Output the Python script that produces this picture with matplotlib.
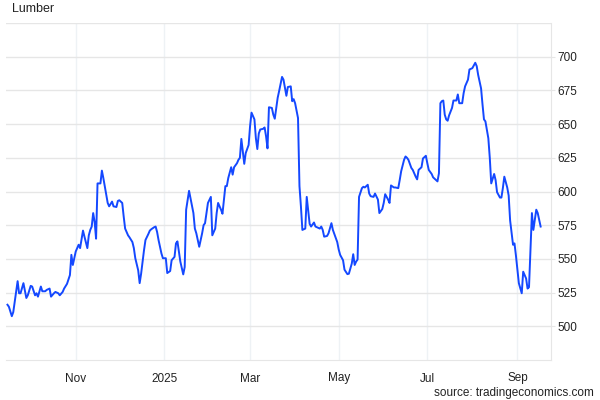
import datetime as dt
import matplotlib
matplotlib.use("Agg")
import matplotlib.pyplot as plt
import matplotlib.dates as mdates
from matplotlib.ticker import FixedLocator

# ---- data (day offset from 2024-09-13, price) ----
start_date = dt.date(2024, 9, 13)
days = [2, 3, 5, 6, 8, 9, 10, 11, 13, 15, 16, 18, 19, 21, 22, 23, 25, 26, 28, 29,
        31, 32, 34, 35, 37, 38, 40, 41, 43, 45, 46, 47, 49, 51, 52, 54, 55, 57, 58, 59,
        60, 61, 62, 63, 64, 66, 67, 68, 70, 71, 72, 74, 75, 77, 78, 79, 81, 82, 83, 85,
        86, 88, 89, 90, 92, 93, 94, 96, 97, 99, 100, 101, 103, 104, 105, 106, 108, 109, 111, 112,
        114, 115, 117, 118, 119, 120, 121, 123, 124, 125, 127, 128, 130, 131, 132, 134, 136, 137, 138, 140,
        142, 143, 145, 146, 147, 149, 150, 152, 153, 154, 156, 157, 158, 160, 161, 162, 163, 165, 166, 168,
        169, 170, 172, 173, 174, 175, 176, 178, 179, 180, 181, 182, 184, 185, 186, 188, 189, 191, 192, 194,
        195, 197, 198, 199, 200, 202, 203, 204, 205, 207, 208, 210, 211, 213, 214, 215, 217, 218, 219, 220,
        222, 223, 225, 226, 227, 229, 230, 231, 233, 234, 236, 237, 239, 240, 241, 242, 243, 244, 246, 247,
        248, 250, 251, 252, 254, 255, 257, 258, 260, 261, 262, 264, 265, 266, 268, 269, 271, 272, 273, 275,
        276, 277, 278, 280, 281, 283, 284, 285, 287, 288, 290, 291, 292, 294, 295, 297, 298, 299, 300, 301,
        302, 303, 304, 305, 306, 308, 309, 311, 312, 313, 315, 316, 317, 319, 320, 322, 323, 324, 325, 326,
        328, 329, 330, 331, 333, 334, 335, 337, 338, 339, 341, 342, 343, 344, 346, 347, 348, 350, 351, 352,
        354, 356, 357, 359, 360, 361, 363, 364, 366, 367, 369]
prices = [516, 514.5, 507.5, 510.5, 525.5, 533.5, 524.5, 524.5, 532, 521, 523, 530, 529.5, 523, 524.5, 522, 529.5, 526, 526, 527,
          528, 522, 524.5, 525.5, 524.5, 523, 525.5, 528, 531.5, 538, 553, 545.5, 555.5, 560.5, 558, 571, 566.5, 558, 567.5, 571.5,
          574, 584, 577.5, 565, 606, 606, 615.5, 610, 597.5, 591.5, 589, 592.5, 589, 588.5, 593, 593.5, 591.5, 581.5, 572.5, 567.5,
          566, 562.5, 558, 550.5, 541.5, 532, 539, 556.5, 564, 568.5, 571, 572, 573.5, 574, 570, 564, 554, 550.5, 550.5, 539.5,
          541, 549, 551.5, 561.5, 563, 555.5, 548, 538.5, 544, 586.5, 600.5, 595, 584, 572.5, 569, 559, 569, 575, 576.5, 591.5,
          596, 567.5, 572.5, 584, 591.5, 586.5, 583.5, 604, 604, 610, 618, 612.5, 618, 621, 623.5, 625, 639, 620.5, 628.5, 634.5,
          648.5, 658.5, 653.5, 639.5, 631.5, 643, 646, 646.5, 647.5, 641, 632, 662.5, 662, 657, 654, 669.5, 674.5, 685, 683, 671,
          677.5, 678, 667, 668.5, 665.5, 654.5, 604, 589, 571.5, 572.5, 596, 576, 574, 577, 574, 573.5, 572.5, 574, 571.5, 566.5,
          567, 569, 576.5, 571.5, 568.5, 562.5, 557, 553, 549, 542, 538.7, 539, 546.5, 553.5, 545.5, 548, 549.5, 596, 602.5, 603.5,
          603, 605, 598.5, 596.5, 596, 598.5, 594, 584, 587, 591.5, 598, 594, 591.5, 604.5, 603, 603, 602.5, 608.5, 615, 623.5,
          626, 625, 623.5, 617.5, 616, 611, 609, 616, 618, 624.5, 626.5, 621, 616, 613, 610.5, 608.5, 607.5, 613.5, 665.5, 667,
          667.5, 657, 653.5, 652.5, 656.5, 662, 667.5, 667.5, 672, 665.5, 665.5, 673, 678, 683, 690.5, 691.5, 693.5, 695.5, 693, 686.5,
          676.5, 664.5, 653.5, 652, 639.5, 625, 606, 613, 608.5, 599.5, 595.5, 595.5, 602.5, 611, 603, 597, 578.5, 560.5, 561.5, 552.5,
          532, 524.5, 540.5, 535.5, 528, 529, 584, 571.5, 586.5, 584, 574]

y_ticks = [500, 525, 550, 575, 600, 625, 650, 675, 700]
title = "Lumber"
source = "source: tradingeconomics.com"

dates = [start_date + dt.timedelta(days=d) for d in days]

plt.rcParams['font.family'] = ['Liberation Sans', 'DejaVu Sans']

fig = plt.figure(figsize=(6, 4), dpi=100)
ax = fig.add_axes([0.01, 0.1, 0.908, 0.8425])

ax.plot(dates, prices, color='#1448ff', linewidth=1.4, solid_joinstyle='round')

ax.set_ylim(475, 725)
ax.set_xlim(dt.date(2024, 9, 14), dt.date(2025, 9, 24))

ax.yaxis.tick_right()
ax.yaxis.set_major_locator(FixedLocator(y_ticks))
ax.yaxis.set_minor_locator(FixedLocator([725]))
ax.tick_params(axis='y', which='major', length=3, color='#e6e6e6', pad=2,
               labelsize=8.5, labelcolor='#222222')
ax.tick_params(axis='y', which='minor', length=0)
ax.grid(axis='y', which='both', color='#e6e6e6', linewidth=1.0)

ax.xaxis.set_major_locator(mdates.MonthLocator(bymonth=[1, 3, 5, 7, 9, 11]))
ax.xaxis.set_major_formatter(
    plt.FuncFormatter(lambda v, p: (mdates.num2date(v).strftime('%Y')
                                    if mdates.num2date(v).month == 1
                                    else mdates.num2date(v).strftime('%b'))))
ax.tick_params(axis='x', length=0, pad=9, labelsize=8.5, labelcolor='#222222')
ax.grid(axis='x', color='#eef2f5', linewidth=1.0)

for s in ['left', 'top']:
    ax.spines[s].set_visible(False)
ax.spines['right'].set_color('#e6e6e6')
ax.spines['bottom'].set_color('#e6e6e6')
ax.set_axisbelow(True)

fig.text(12 / 600, 1 - 8.5 / 400, title, fontsize=9, color='#222222',
         ha='left', va='center')
fig.text(594 / 600, 0.003, source, fontsize=8.5, color='#222222',
         ha='right', va='bottom')

fig.savefig('out.png', dpi=100)
